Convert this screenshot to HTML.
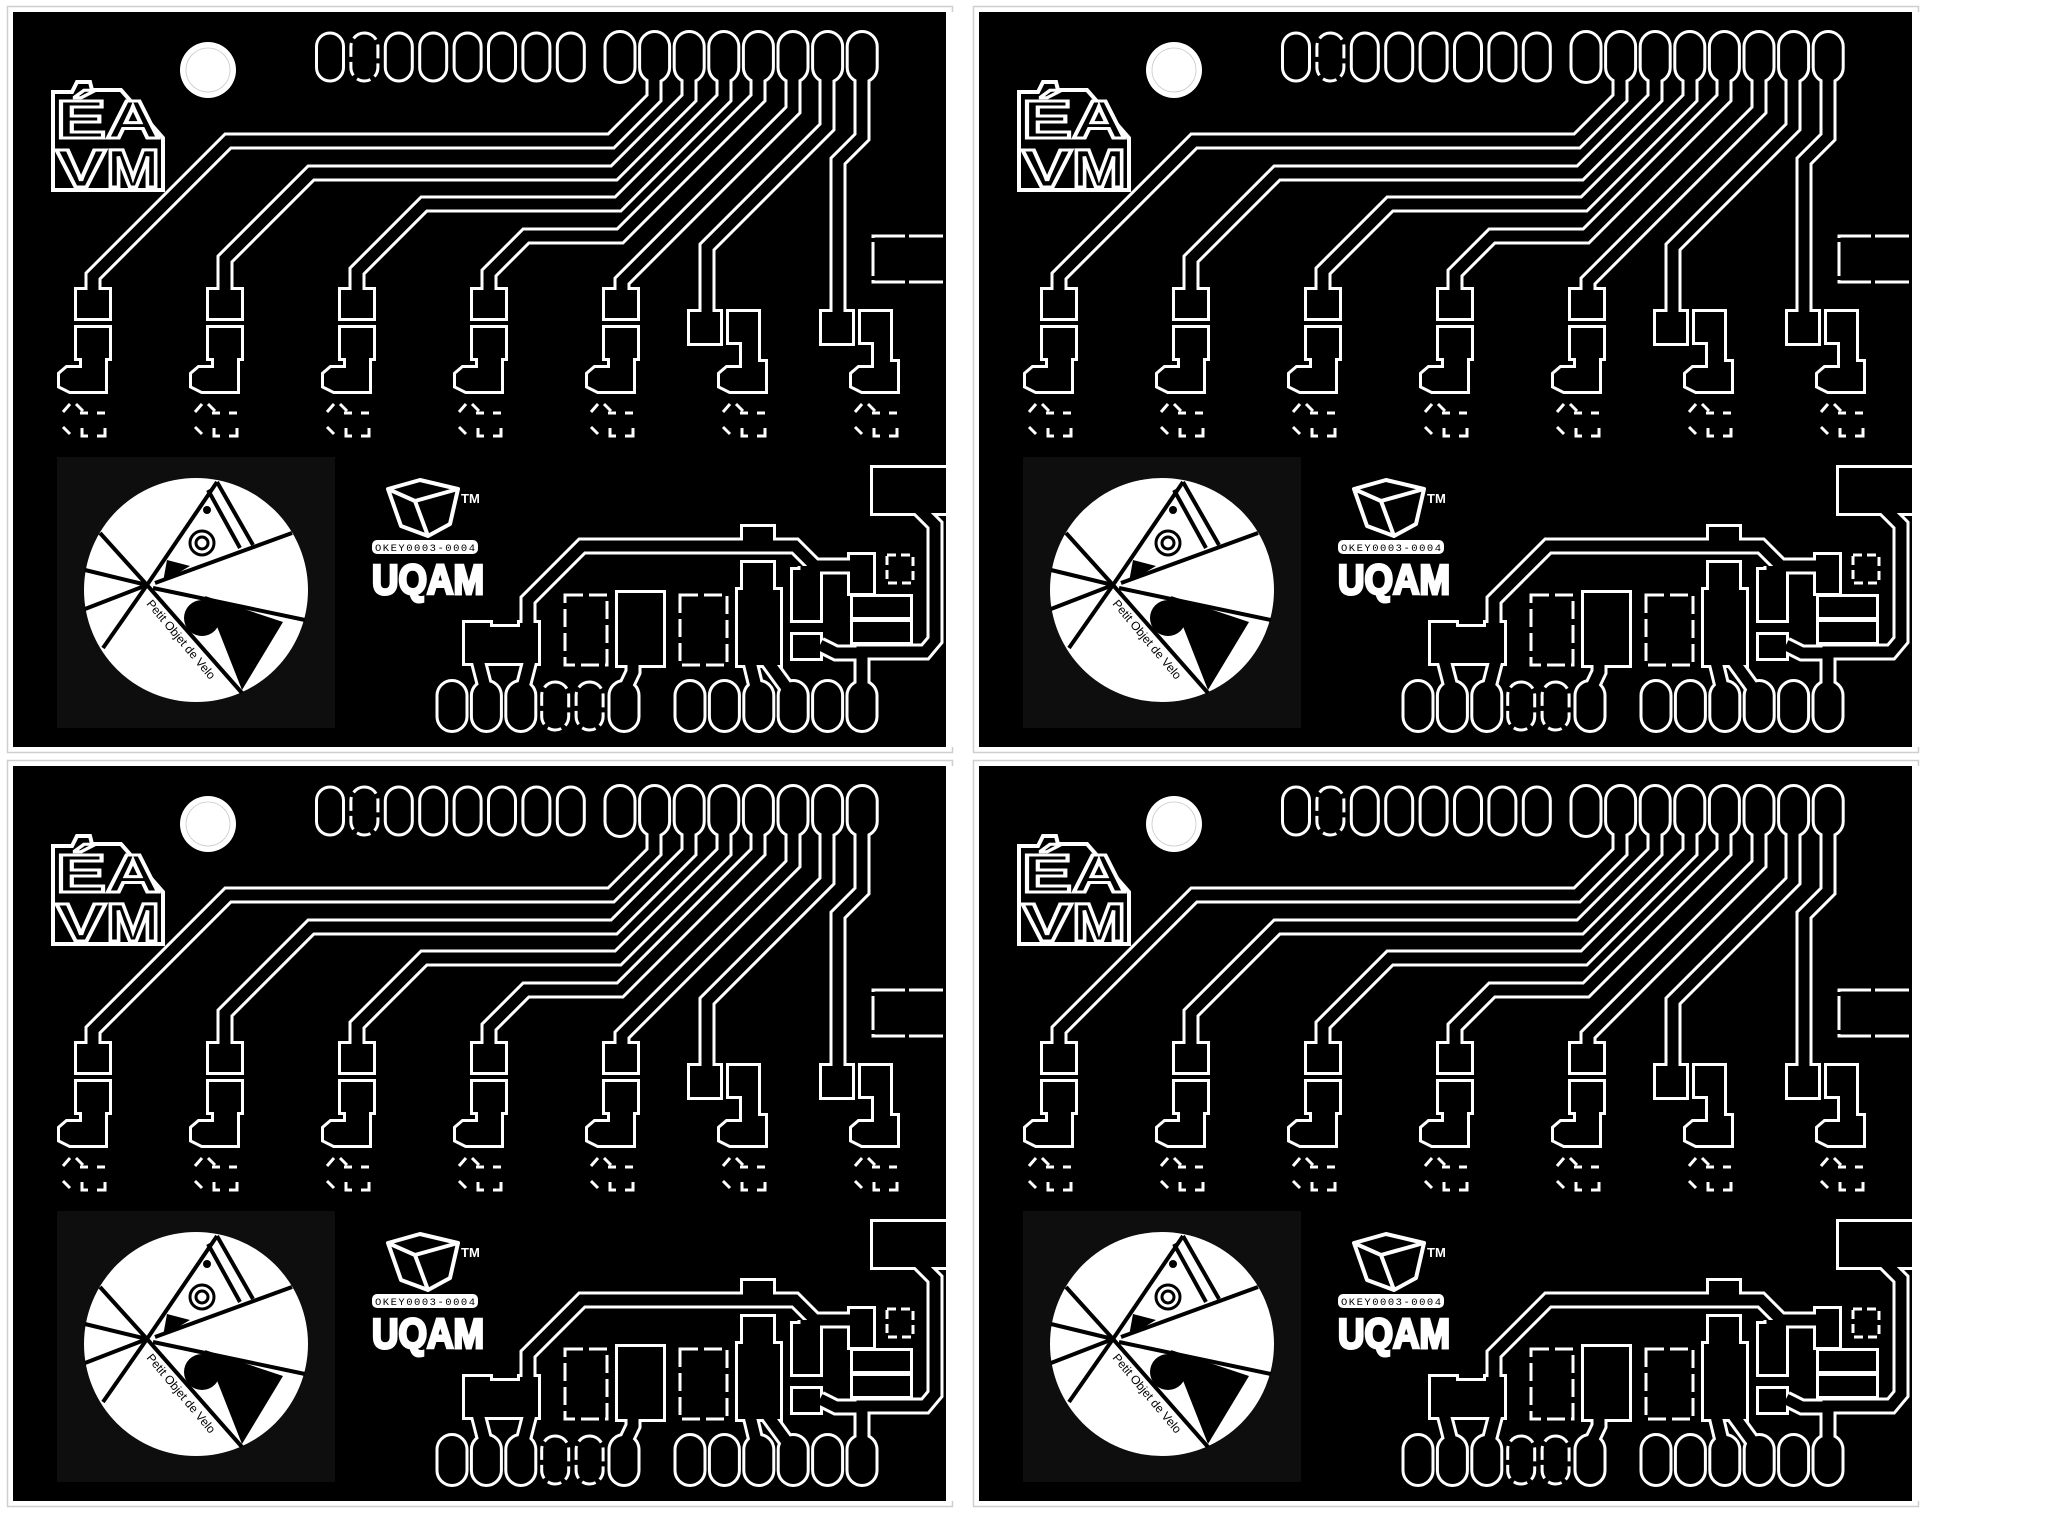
<!DOCTYPE html>
<html><head><meta charset="utf-8"><style>
html,body{margin:0;padding:0;background:#fff;}
svg{display:block;}
</style></head><body>
<svg width="2048" height="1538" viewBox="0 0 2048 1538" xmlns="http://www.w3.org/2000/svg">
<defs>
<g id="tr" fill="none" stroke-linejoin="miter" stroke-linecap="butt">
  <path d="M654,70 V98 L611,141 H228 L93,276 V295"/>
  <path d="M689,70 V98 L614,173 H311 L225,259 V295"/>
  <path d="M724,70 V98 L618,204 H424 L357,271 V295"/>
  <path d="M758,70 V98 L620,236 H526 L489,273 V295"/>
  <path d="M793,70 V110 L622,281 V295"/>
  <path d="M827,70 V127 L707,247 V318"/>
  <path d="M862,70 V137 L838,161 V318"/>
  <path d="M915,505 L935,525 V640 L925,652 H862 V700"/>
  <path d="M528,640 V600 L582,546 H795 L815,566 H858"/>
  <path d="M478,660 L487,695"/>
  <path d="M530,660 L521,695"/>
  <path d="M633,660 V672 L622,695"/>
  <path d="M768,662 L792,695"/>
  <path d="M750,662 L758,695"/>
  <path d="M820,645 L836,653 H858"/>
  <path d="M806,575 V566"/>
</g>
<g id="sh">
  <rect x="606.5" y="33" width="27" height="48" rx="13.5"/>
  <rect x="641.1" y="33" width="27" height="48" rx="13.5"/>
  <rect x="675.7" y="33" width="27" height="48" rx="13.5"/>
  <rect x="710.3" y="33" width="27" height="48" rx="13.5"/>
  <rect x="744.9" y="33" width="27" height="48" rx="13.5"/>
  <rect x="779.5" y="33" width="27" height="48" rx="13.5"/>
  <rect x="814.1" y="33" width="27" height="48" rx="13.5"/>
  <rect x="848.7" y="33" width="27" height="48" rx="13.5"/>
  <rect x="77" y="290" width="32" height="28"/>
  <rect x="209" y="290" width="32" height="28"/>
  <rect x="341" y="290" width="32" height="28"/>
  <rect x="473" y="290" width="32" height="28"/>
  <rect x="605" y="290" width="32" height="28"/>
  <rect x="690" y="312" width="30" height="31"/>
  <rect x="822" y="312" width="30" height="31"/>
  <path d="M77,328 H109 V358 H105 V391 H70 L60,386 V374 L67,368 H82 V358 H77 Z"/>
  <path transform="translate(132,0)" d="M77,328 H109 V358 H105 V391 H70 L60,386 V374 L67,368 H82 V358 H77 Z"/>
  <path transform="translate(264,0)" d="M77,328 H109 V358 H105 V391 H70 L60,386 V374 L67,368 H82 V358 H77 Z"/>
  <path transform="translate(396,0)" d="M77,328 H109 V358 H105 V391 H70 L60,386 V374 L67,368 H82 V358 H77 Z"/>
  <path transform="translate(528,0)" d="M77,328 H109 V358 H105 V391 H70 L60,386 V374 L67,368 H82 V358 H77 Z"/>
  <path d="M729,312 H758 V362 H765 V391 H730 L720,386 V374 L727,368 H742 V342 H729 Z"/>
  <path d="M861,312 H890 V362 H897 V391 H862 L852,386 V374 L859,368 H874 V342 H861 Z"/>
  <rect x="438.5" y="682" width="27" height="48" rx="13.5"/>
  <rect x="472.9" y="682" width="27" height="48" rx="13.5"/>
  <rect x="507.3" y="682" width="27" height="48" rx="13.5"/>
  <rect x="610.5" y="682" width="27" height="48" rx="13.5"/>
  <rect x="676.5" y="682" width="27" height="48" rx="13.5"/>
  <rect x="710.9" y="682" width="27" height="48" rx="13.5"/>
  <rect x="745.3" y="682" width="27" height="48" rx="13.5"/>
  <rect x="779.7" y="682" width="27" height="48" rx="13.5"/>
  <rect x="814.1" y="682" width="27" height="48" rx="13.5"/>
  <rect x="848.5" y="682" width="27" height="48" rx="13.5"/>
  <rect x="873" y="468" width="80" height="45"/>
  <path d="M465,623 H490 V627 H520 V623 H538 V663 H465 Z"/>
  <rect x="618" y="593" width="45" height="72"/>
  <rect x="743" y="527" width="30" height="14"/>
  <rect x="743" y="563" width="30" height="27"/>
  <rect x="738" y="590" width="42" height="75"/>
  <rect x="793" y="570" width="27" height="50"/>
  <rect x="793" y="635" width="27" height="23"/>
  <rect x="853" y="597" width="57" height="20"/>
  <rect x="853" y="622" width="57" height="20"/>
  <rect x="850" y="555" width="23" height="38"/>
</g>
<g id="P">
  <rect x="7.5" y="6.5" width="945" height="746" fill="none" stroke="#cfcfcf" stroke-width="1.5"/>
  <rect x="13" y="12" width="933" height="735" fill="#000"/>
  <use href="#sh" fill="#fff" stroke="#fff" stroke-width="6"/>
  <use href="#tr" stroke="#fff" stroke-width="17"/>
  <use href="#sh" fill="#000" stroke="none"/>
  <use href="#tr" stroke="#000" stroke-width="11"/>
  <rect x="946" y="12" width="8" height="735" fill="#fff"/>
  <g fill="#000" stroke="#fff" stroke-width="3">
    <rect x="316.5" y="33" width="27" height="48" rx="13.5"/>
    <rect x="350.9" y="33" width="27" height="48" rx="13.5" stroke-dasharray="14 5"/>
    <rect x="385.3" y="33" width="27" height="48" rx="13.5"/>
    <rect x="419.7" y="33" width="27" height="48" rx="13.5"/>
    <rect x="454.1" y="33" width="27" height="48" rx="13.5"/>
    <rect x="488.5" y="33" width="27" height="48" rx="13.5"/>
    <rect x="522.9" y="33" width="27" height="48" rx="13.5"/>
    <rect x="557.3" y="33" width="27" height="48" rx="13.5"/>
    <rect x="541.7" y="682" width="27" height="48" rx="13.5" stroke-dasharray="14 5"/>
    <rect x="576.1" y="682" width="27" height="48" rx="13.5" stroke-dasharray="14 5"/>
  </g>
  <g fill="none" stroke="#fff" stroke-width="3" stroke-dasharray="18 6">
    <rect x="565" y="595" width="42" height="70"/>
    <rect x="680" y="595" width="47" height="70"/>
    <rect x="887" y="555" width="26" height="28" stroke-dasharray="9 5"/>
    <path d="M943,236 H873 V282 H943" stroke-dasharray="34 4"/>
  </g>
  <g id="dz" fill="none" stroke="#fff" stroke-width="3">
    <path d="M80,413 H88 M97,413 H105 M105,428 V436 H97 M88,436 H82 V428" />
    <path d="M63,412 L70,404 M76,404 L83,411 M63,427 L70,434"/>
  </g>
  <use href="#dz" transform="translate(132,0)"/>
  <use href="#dz" transform="translate(264,0)"/>
  <use href="#dz" transform="translate(396,0)"/>
  <use href="#dz" transform="translate(528,0)"/>
  <use href="#dz" transform="translate(660,0)"/>
  <use href="#dz" transform="translate(792,0)"/>
  <circle cx="208" cy="70" r="28" fill="#fff"/>
  <circle cx="208" cy="70" r="22" fill="none" stroke="#ccc" stroke-width="0.8"/>
  <!-- EAVM logo -->
  <path d="M53,92 L72,92 L77,82 L90,82 L92,90 L121,90 L163,138 V190 H53 Z" fill="#000" stroke="#fff" stroke-width="4"/>
  <g font-family="Liberation Sans, sans-serif" font-weight="bold" fill="#000" stroke="#fff" stroke-width="3" font-size="54">
    <text x="56" y="138" textLength="50" lengthAdjust="spacingAndGlyphs">É</text>
    <text x="106" y="138" textLength="54" lengthAdjust="spacingAndGlyphs">A</text>
    <text x="56" y="187" textLength="50" lengthAdjust="spacingAndGlyphs">V</text>
    <text x="106" y="187" textLength="54" lengthAdjust="spacingAndGlyphs">M</text>
  </g>
  <!-- circle logo -->
  <rect x="57" y="457" width="278" height="271" fill="#0e0e0e"/>
  <circle cx="196" cy="590" r="112" fill="#fff"/>
  <g stroke="#000" stroke-width="4" fill="none">
    <line x1="147" y1="585" x2="100" y2="533"/>
    <line x1="147" y1="585" x2="85" y2="570"/>
    <line x1="147" y1="585" x2="85" y2="609"/>
    <line x1="147" y1="585" x2="103" y2="648"/>
    <line x1="147" y1="585" x2="242" y2="693"/>
    <line x1="147" y1="585" x2="217" y2="482"/>
    <line x1="155" y1="583" x2="292" y2="533"/>
    <line x1="153" y1="588" x2="305" y2="620"/>
    <line x1="217" y1="482" x2="253" y2="545"/>
    <line x1="208" y1="490" x2="240" y2="548"/>
  </g>
  <polygon points="205,596 283,622 242,690" fill="#000"/>
  <circle cx="202" cy="618" r="18" fill="#000"/>
  <polygon points="163,582 167,560 190,566" fill="#000"/>
  <circle cx="207" cy="510" r="4" fill="#000"/>
  <g fill="none" stroke="#000" stroke-width="3">
    <circle cx="202" cy="543" r="12"/>
    <circle cx="202" cy="543" r="6"/>
  </g>
  <text x="146" y="604" transform="rotate(50 146 604)" font-family="Liberation Sans, sans-serif" font-size="12" fill="#000">Petit Objet de Velo</text>
  <!-- UQAM logo -->
  <g fill="none" stroke="#fff" stroke-width="4" stroke-linejoin="round">
    <path d="M388,489 L420,480 L458,489 L450,524 L428,536 L401,526 Z"/>
    <path d="M388,489 L415,501 L458,489 M415,501 L428,536"/>
  </g>
  <text x="461" y="503" font-family="Liberation Sans, sans-serif" font-weight="bold" font-size="13" fill="#fff">TM</text>
  <rect x="372" y="540" width="106" height="14" rx="5" fill="#fff"/>
  <text x="375" y="551" font-family="Liberation Mono, monospace" font-size="10.5" fill="#000" textLength="100">OKEY0003-0004</text>
  <text x="372" y="594" font-family="Liberation Sans, sans-serif" font-weight="bold" font-size="42" fill="#fff" stroke="#fff" stroke-width="3" textLength="112" lengthAdjust="spacingAndGlyphs">UQAM</text>
</g>
</defs>
<rect width="2048" height="1538" fill="#fff"/>
<use href="#P"/>
<use href="#P" transform="translate(966,0)"/>
<use href="#P" transform="translate(0,754)"/>
<use href="#P" transform="translate(966,754)"/>
</svg>
</body></html>
